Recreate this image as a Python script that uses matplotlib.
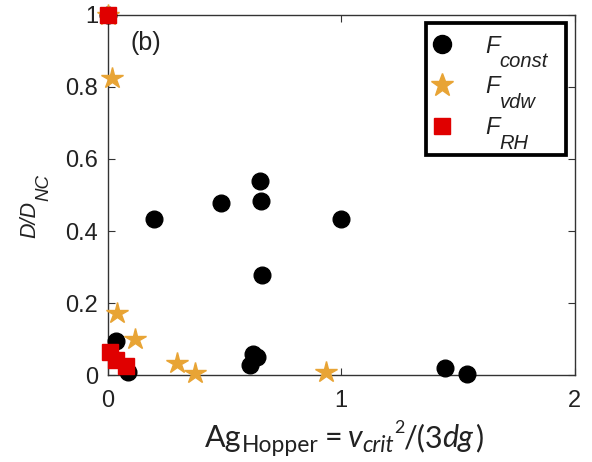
import matplotlib
matplotlib.use("Agg")
import matplotlib.pyplot as plt
from matplotlib.lines import Line2D
from matplotlib.patches import Rectangle

plt.rcParams['font.family'] = ['Liberation Sans', 'DejaVu Sans']

# Ag_Hopper vs D/D_NC for three cohesion models
const_x = [0.20, 0.484, 0.65, 0.655, 1.00, 0.66, 0.034, 0.086, 0.62, 0.64, 0.61, 1.443, 1.537, 0.0]
const_y = [0.433, 0.478, 0.54, 0.483, 0.433, 0.278, 0.094, 0.008, 0.06, 0.05, 0.028, 0.02, 0.003, 1.0]

vdw_x = [0.0, 0.017, 0.038, 0.116, 0.295, 0.373, 0.935]
vdw_y = [1.0, 0.825, 0.172, 0.10, 0.033, 0.006, 0.010]

rh_x = [0.0, 0.01, 0.034, 0.08]
rh_y = [1.0, 0.064, 0.042, 0.025]

xticks = [0, 1, 2]
xticklabels = ['0', '1', '2']
yticks = [0, 0.2, 0.4, 0.6, 0.8, 1.0]
yticklabels = ['0', '0.2', '0.4', '0.6', '0.8', '1']

legend_main = ['F', 'F', 'F']
legend_sub = ['const', 'vdw', 'RH']

ORANGE = '#E8A435'
RED = '#E00000'
INK = '#222222'

fig = plt.figure(figsize=(5.92, 4.62), dpi=100)
ax = fig.add_axes([0.182, 0.188, 0.789, 0.780])

ax.plot(const_x, const_y, 'o', color='black', ms=12, clip_on=False, zorder=3)
ax.plot(vdw_x, vdw_y, '*', color=ORANGE, mec=ORANGE, ms=16, clip_on=False, zorder=4)
ax.plot(rh_x, rh_y, 's', color=RED, mec=RED, ms=11, clip_on=False, zorder=5)

ax.set_xlim(0, 2)
ax.set_ylim(0, 1)
ax.set_xticks(xticks)
ax.set_xticklabels(xticklabels)
ax.set_yticks(yticks)
ax.set_yticklabels(yticklabels)
ax.tick_params(direction='in', length=5, width=0.8, labelsize=17, color='#333333',
               labelcolor=INK, top=True, right=True)
ax.tick_params(axis='x', pad=11)
ax.tick_params(axis='y', pad=7)
for sp in ax.spines.values():
    sp.set_linewidth(1.0)
    sp.set_color('#333333')

ax.text(0.163, 0.922, '(b)', fontsize=18, ha='center', va='center', color=INK,
        transform=ax.transData)

# Legend: frame drawn as a patch, entries placed by legend, subscripts attached
frame = Rectangle((0.681, 0.611), 0.300, 0.367, transform=ax.transAxes,
                  facecolor='white', edgecolor='black', lw=2.7, clip_on=False, zorder=6)
ax.add_patch(frame)
handles = [
    Line2D([], [], ls='none', marker='o', color='black', ms=13),
    Line2D([], [], ls='none', marker='*', color=ORANGE, ms=17),
    Line2D([], [], ls='none', marker='s', color=RED, ms=11),
]
leg = ax.legend(handles, legend_main, loc='upper left', bbox_to_anchor=(0.690, 0.945),
                bbox_transform=ax.transAxes, borderaxespad=0, borderpad=0,
                frameon=False, handlelength=1.0, handletextpad=1.33,
                labelspacing=0.75, prop={'style': 'italic', 'size': 17})
leg.set_zorder(7)
for t, sub in zip(leg.get_texts(), legend_sub):
    t.set_color(INK)
    ax.annotate(sub, xy=(1, 0), xycoords=t, xytext=(0, -6.9),
                textcoords='offset points', fontsize=14.5, style='italic',
                ha='left', va='baseline', color=INK, annotation_clip=False, zorder=8)

# y-axis label: D/D with subscript NC, written upwards
ylab = fig.text(35 / 592, (462 - 238) / 462, 'D/D', fontsize=15.5, style='italic',
                rotation=90, rotation_mode='anchor', ha='left', va='baseline', color=INK)
ax.annotate('NC', xy=(35 / 592, 1), xycoords=('figure fraction', ylab),
            xytext=(9.4, 0), textcoords='offset points', fontsize=13.5, style='italic',
            rotation=90, rotation_mode='anchor', ha='left', va='baseline', color=INK,
            annotation_clip=False)

# x-axis label assembled from pieces: Ag_Hopper = v_crit^2/(3dg)
pieces = [
    # text, size, style, gap (pt), vertical offset (pt)
    ('Ag', 22, 'normal', 0, 0),
    ('Hopper', 16.5, 'normal', 0, -3.6),
    ('=', 22, 'normal', 4.5, 0),
    ('v', 22, 'italic', 4.0, 0),
    ('crit', 16.5, 'italic', 0, -3.6),
    ('2', 13, 'normal', 0, 10),
    ('/(3', 22, 'normal', 0, 0),
    ('dg', 22, 'italic', -1.0, 0),
    (')', 22, 'normal', 1, 0),
]
x0 = 205 / 592
y0 = 1 - 447 / 462
prev = None
for txt, size, style, gap, dy in pieces:
    if prev is None:
        t = fig.text(x0, y0, txt, fontsize=size, family='Lato', style=style,
                     ha='left', va='baseline', color=INK)
    else:
        t = ax.annotate(txt, xy=(1, y0), xycoords=(prev, 'figure fraction'),
                        xytext=(gap, dy), textcoords='offset points',
                        fontsize=size, family='Lato', style=style,
                        ha='left', va='baseline', color=INK, annotation_clip=False)
    prev = t

fig.savefig('out.png', dpi=100)
